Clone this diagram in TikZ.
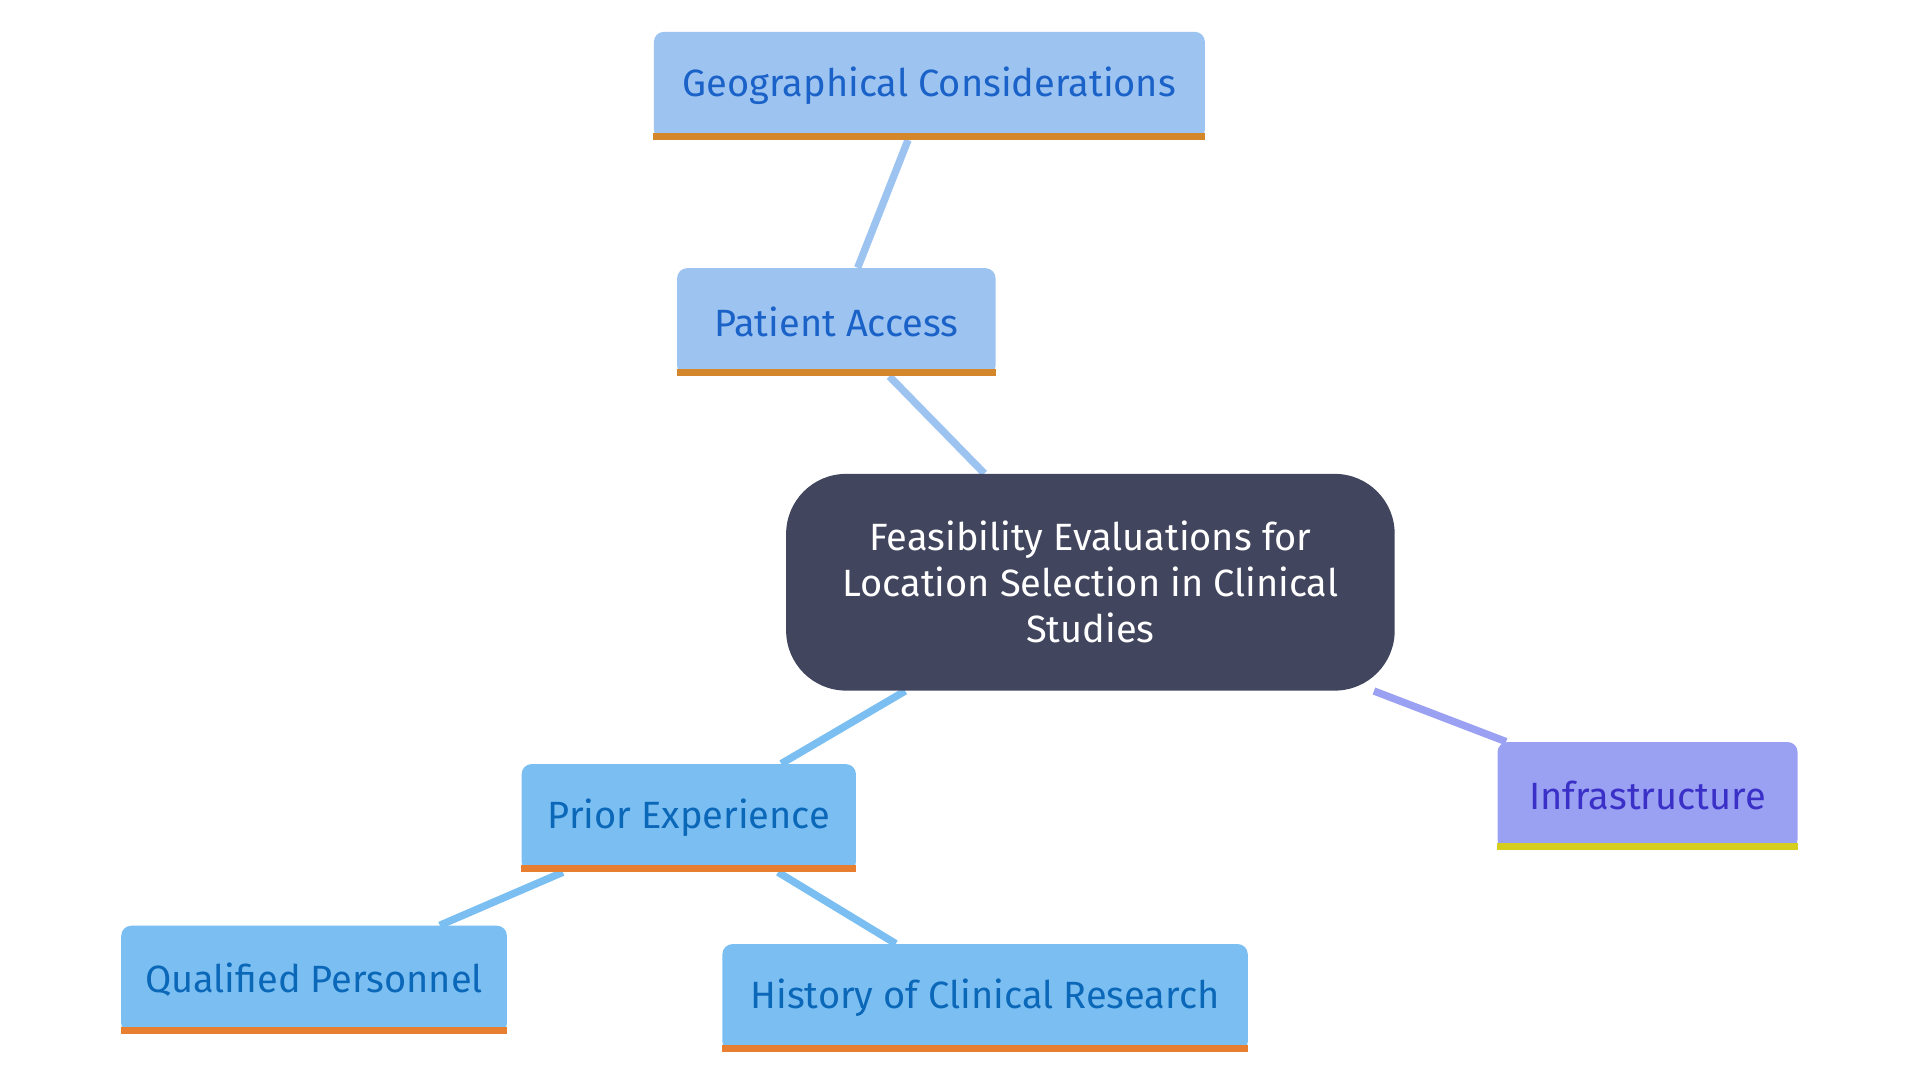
\documentclass[tikz,border=0pt]{standalone}
\usepackage{fontspec}
\setmainfont{Fira Sans}
\usetikzlibrary{backgrounds}
\definecolor{lb}{HTML}{9DC3F0}
\definecolor{lbt}{HTML}{1A62C8}
\definecolor{mb}{HTML}{7BBFF2}
\definecolor{mbt}{HTML}{0B67B8}
\definecolor{pu}{HTML}{9AA0F2}
\definecolor{put}{HTML}{3A30C8}
\definecolor{orA}{HTML}{D4862A}
\definecolor{orB}{HTML}{E87E30}
\definecolor{ye}{HTML}{D6CE1E}
\definecolor{dk}{HTML}{41455D}
\begin{document}
\begin{tikzpicture}[x=0.6122pt,y=-0.6122pt,
 box/.style={rounded corners=5pt,inner sep=0pt,font=\fontsize{19}{23}\selectfont},
 edge/.style={line width=3.7pt}]
\useasboundingbox (0,0) rectangle (1568,882);
\node[box,fill=lb,text=lbt,minimum width=450*0.6122pt,minimum height=88*0.6122pt] (geo) at (759,70) {Geographical Considerations};
\node[box,fill=lb,text=lbt,minimum width=260*0.6122pt,minimum height=88*0.6122pt] (pat) at (683,263) {Patient Access};
\node[box,fill=dk,text=white,rounded corners=30pt,minimum width=497*0.6122pt,minimum height=177*0.6122pt,align=center] (c) at (890.5,475.5) {Feasibility Evaluations for\\Location Selection in Clinical\\Studies};
\node[box,fill=mb,text=mbt,minimum width=273*0.6122pt,minimum height=88*0.6122pt] (pri) at (562.5,668) {Prior Experience};
\node[box,fill=mb,text=mbt,minimum width=315*0.6122pt,minimum height=88*0.6122pt] (qua) at (256.5,800) {Qualified Personnel};
\node[box,fill=mb,text=mbt,minimum width=429*0.6122pt,minimum height=88*0.6122pt] (his) at (804.5,815) {History of Clinical Research};
\node[box,fill=pu,text=put,minimum width=245*0.6122pt,minimum height=88*0.6122pt] (inf) at (1345.5,650) {Infrastructure};
\foreach \n/\col in {geo/orA,pat/orA,pri/orB,qua/orB,his/orB,inf/ye}
  \fill[\col] (\n.south west) rectangle ([yshift=6*0.6122pt]\n.south east);
\begin{pgfonlayer}{background}
\draw[edge,lb] (geo) -- (pat);
\draw[edge,lb] (pat) -- (c);
\draw[edge,mb] (c) -- (pri);
\draw[edge,pu] (c) -- (inf);
\draw[edge,mb] (pri) -- (qua);
\draw[edge,mb] (pri) -- (his);
\end{pgfonlayer}
\end{tikzpicture}
\end{document}
